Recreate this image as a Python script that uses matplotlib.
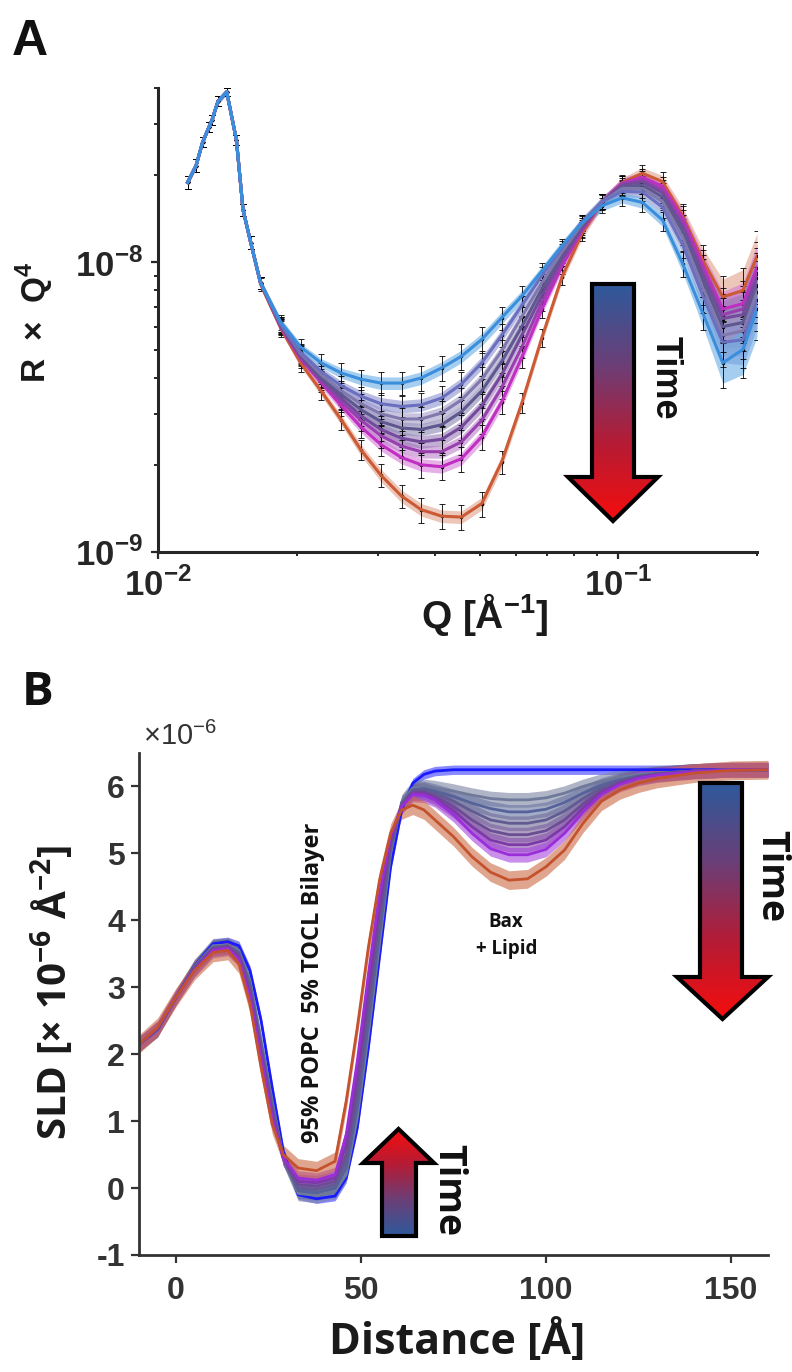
import numpy as np
import matplotlib
matplotlib.use("Agg")
import matplotlib.pyplot as plt
from matplotlib import ticker
from matplotlib.colors import LinearSegmentedColormap
from matplotlib.patches import Polygon

plt.rcParams['font.family'] = ['Liberation Sans', 'DejaVu Sans']
plt.rcParams['mathtext.fontset'] = 'custom'
plt.rcParams['mathtext.rm'] = 'Liberation Sans:bold'
plt.rcParams['mathtext.bf'] = 'Open Sans:bold'
plt.rcParams['mathtext.sf'] = 'Liberation Sans'
plt.rcParams['axes.unicode_minus'] = False

# ---------------- panel A data (R x Q^4 vs Q) ----------------
q_low = [0.0116, 0.0121, 0.0125, 0.0129, 0.0131, 0.0135, 0.0141, 0.0148, 0.0153, 0.0159]
r_low = [1.89e-8, 2.16e-8, 2.6e-8, 2.93e-8, 3.1e-8, 3.6e-8, 3.88e-8, 2.65e-8, 1.52e-8, 1.17e-8]
err_low = [0.05, 0.05, 0.04, 0.04, 0.04, 0.04, 0.03, 0.04, 0.05, 0.05]
band_low = [0.02, 0.02, 0.02, 0.02, 0.02, 0.02, 0.02, 0.02, 0.02, 0.02]

q_hi = [0.0167, 0.0185, 0.0204, 0.0226, 0.0250, 0.0276, 0.0305, 0.0338, 0.0373, 0.0413,
        0.0456, 0.0505, 0.0558, 0.0617, 0.0682, 0.0754, 0.0834, 0.0922, 0.1020, 0.1128,
        0.1247, 0.1379, 0.1524, 0.1685, 0.1864, 0.2000]
err_hi = [0.05, 0.06, 0.07, 0.07, 0.08, 0.08, 0.09, 0.09, 0.1, 0.1, 0.1, 0.1, 0.09,
          0.08, 0.07, 0.06, 0.06, 0.06, 0.06, 0.07, 0.08, 0.1, 0.13, 0.18, 0.2, 0.22]
band_hi = [0.03, 0.03, 0.03, 0.035, 0.04, 0.045, 0.05, 0.05, 0.05, 0.05, 0.05, 0.05, 0.05,
           0.045, 0.04, 0.04, 0.04, 0.04, 0.04, 0.045, 0.05, 0.07, 0.1, 0.15, 0.18, 0.2]

rq_blue = [8.5e-9, 6.2e-9, 5.1e-9, 4.5e-9, 4.15e-9, 3.95e-9, 3.83e-9, 3.83e-9, 3.99e-9, 4.32e-9,
           4.74e-9, 5.42e-9, 6.44e-9, 7.65e-9, 9.33e-9, 1.14e-8, 1.37e-8, 1.57e-8, 1.67e-8, 1.61e-8,
           1.40e-8, 9.9e-9, 6.7e-9, 4.5e-9, 5.0e-9, 6.9e-9]
rq_c1 = [8.5e-9, 6.1e-9, 4.9e-9, 4.2e-9, 3.75e-9, 3.45e-9, 3.25e-9, 3.18e-9, 3.22e-9, 3.4e-9,
         3.8e-9, 4.5e-9, 5.6e-9, 7.1e-9, 9.0e-9, 1.12e-8, 1.38e-8, 1.62e-8, 1.76e-8, 1.75e-8,
         1.55e-8, 1.15e-8, 7.7e-9, 5.3e-9, 5.4e-9, 7.4e-9]
rq_c2 = [8.5e-9, 6.1e-9, 4.85e-9, 4.1e-9, 3.6e-9, 3.25e-9, 3.0e-9, 2.88e-9, 2.88e-9, 3.02e-9,
         3.35e-9, 3.95e-9, 4.95e-9, 6.5e-9, 8.5e-9, 1.09e-8, 1.36e-8, 1.62e-8, 1.80e-8, 1.80e-8,
         1.62e-8, 1.22e-8, 8.2e-9, 5.6e-9, 5.8e-9, 7.9e-9]
rq_c3 = [8.5e-9, 6.05e-9, 4.8e-9, 4.0e-9, 3.5e-9, 3.1e-9, 2.82e-9, 2.68e-9, 2.65e-9, 2.75e-9,
         3.05e-9, 3.6e-9, 4.55e-9, 6.0e-9, 8.1e-9, 1.06e-8, 1.34e-8, 1.62e-8, 1.82e-8, 1.85e-8,
         1.68e-8, 1.28e-8, 8.7e-9, 6.0e-9, 6.2e-9, 8.3e-9]
rq_c4 = [8.5e-9, 6.0e-9, 4.75e-9, 3.95e-9, 3.4e-9, 2.95e-9, 2.65e-9, 2.47e-9, 2.4e-9, 2.45e-9,
         2.7e-9, 3.2e-9, 4.1e-9, 5.6e-9, 7.7e-9, 1.03e-8, 1.32e-8, 1.62e-8, 1.85e-8, 1.90e-8,
         1.74e-8, 1.33e-8, 9.1e-9, 6.4e-9, 6.6e-9, 8.8e-9]
rq_c5 = [8.5e-9, 6.0e-9, 4.7e-9, 3.9e-9, 3.3e-9, 2.85e-9, 2.52e-9, 2.32e-9, 2.22e-9, 2.22e-9,
         2.4e-9, 2.85e-9, 3.7e-9, 5.1e-9, 7.3e-9, 1.0e-8, 1.30e-8, 1.62e-8, 1.87e-8, 1.93e-8,
         1.78e-8, 1.38e-8, 9.4e-9, 6.6e-9, 6.9e-9, 9.2e-9]
rq_c6 = [8.5e-9, 5.95e-9, 4.65e-9, 3.85e-9, 3.2e-9, 2.7e-9, 2.35e-9, 2.12e-9, 2.0e-9, 1.97e-9,
         2.1e-9, 2.5e-9, 3.3e-9, 4.7e-9, 6.9e-9, 9.7e-9, 1.29e-8, 1.62e-8, 1.88e-8, 1.97e-8,
         1.83e-8, 1.42e-8, 9.8e-9, 6.9e-9, 7.2e-9, 9.6e-9]
rq_orange = [8.4e-9, 5.9e-9, 4.5e-9, 3.6e-9, 2.86e-9, 2.25e-9, 1.84e-9, 1.56e-9, 1.40e-9, 1.33e-9,
             1.32e-9, 1.47e-9, 2.05e-9, 3.27e-9, 5.5e-9, 8.9e-9, 1.26e-8, 1.61e-8, 1.89e-8, 2.03e-8,
             1.90e-8, 1.45e-8, 1.02e-8, 7.6e-9, 8.0e-9, 1.05e-8]

# ---------------- panel B data (SLD profiles, x 1e-6 A^-2) ----------------
dist = [-10, -5, 0, 5, 10, 14, 17, 20, 23, 26, 29, 33, 38, 43, 46, 49, 52, 55, 58, 61,
        64, 67, 70, 75, 80, 85, 90, 95, 100, 105, 110, 115, 120, 125, 130, 140, 150, 160]
sld_blue = [2.15, 2.36, 2.85, 3.32, 3.65, 3.68, 3.62, 3.25, 2.5, 1.5, 0.55, -0.1, -0.16, -0.12,
            0.15, 0.9, 2.1, 3.45, 4.8, 5.65, 6.05, 6.18, 6.23, 6.25, 6.25, 6.25, 6.25, 6.25, 6.25,
            6.25, 6.25, 6.25, 6.25, 6.25, 6.25, 6.25, 6.25, 6.25]
sld_c1 = [2.15, 2.36, 2.85, 3.31, 3.62, 3.63, 3.55, 3.1, 2.2, 1.3, 0.45, -0.08, -0.11, -0.05,
          0.2, 1.05, 2.3, 3.65, 5.0, 5.77, 5.98, 6.0, 5.98, 5.93, 5.87, 5.82, 5.8, 5.8, 5.83,
          5.9, 6.0, 6.08, 6.14, 6.18, 6.2, 6.23, 6.25, 6.25]
sld_c2 = [2.15, 2.37, 2.85, 3.3, 3.6, 3.62, 3.52, 3.05, 2.15, 1.25, 0.45, -0.04, -0.07, 0.0,
          0.3, 1.2, 2.45, 3.8, 5.05, 5.75, 5.95, 5.97, 5.93, 5.85, 5.75, 5.67, 5.62, 5.62, 5.66,
          5.76, 5.9, 6.02, 6.1, 6.16, 6.19, 6.23, 6.25, 6.25]
sld_c3 = [2.15, 2.37, 2.85, 3.29, 3.59, 3.62, 3.5, 3.0, 2.1, 1.2, 0.45, 0.0, -0.02, 0.05,
          0.4, 1.35, 2.6, 3.95, 5.1, 5.73, 5.93, 5.95, 5.9, 5.78, 5.63, 5.5, 5.45, 5.45, 5.5,
          5.63, 5.82, 5.98, 6.08, 6.15, 6.19, 6.23, 6.25, 6.25]
sld_c4 = [2.15, 2.38, 2.85, 3.28, 3.58, 3.6, 3.48, 2.95, 2.05, 1.15, 0.45, 0.05, 0.03, 0.1,
          0.5, 1.5, 2.8, 4.1, 5.15, 5.72, 5.92, 5.92, 5.86, 5.7, 5.5, 5.34, 5.28, 5.28, 5.34,
          5.5, 5.74, 5.94, 6.06, 6.14, 6.18, 6.23, 6.25, 6.25]
sld_c5 = [2.15, 2.38, 2.85, 3.27, 3.57, 3.6, 3.45, 2.9, 2.0, 1.1, 0.45, 0.1, 0.08, 0.15,
          0.65, 1.7, 3.0, 4.25, 5.2, 5.7, 5.9, 5.9, 5.83, 5.64, 5.4, 5.2, 5.13, 5.13, 5.2,
          5.4, 5.68, 5.91, 6.05, 6.13, 6.18, 6.23, 6.25, 6.25]
sld_c6 = [2.15, 2.39, 2.85, 3.26, 3.55, 3.58, 3.42, 2.85, 1.95, 1.05, 0.45, 0.15, 0.12, 0.2,
          0.8, 1.9, 3.2, 4.4, 5.25, 5.7, 5.88, 5.87, 5.8, 5.58, 5.3, 5.07, 4.98, 4.98, 5.06,
          5.3, 5.62, 5.88, 6.03, 6.12, 6.17, 6.22, 6.25, 6.25]
sld_orange = [2.15, 2.4, 2.85, 3.25, 3.52, 3.55, 3.35, 2.75, 1.8, 0.95, 0.5, 0.3, 0.26, 0.4,
              1.3, 2.4, 3.6, 4.6, 5.3, 5.65, 5.72, 5.65, 5.5, 5.25, 4.95, 4.72, 4.6, 4.62, 4.8,
              5.05, 5.45, 5.78, 5.95, 6.05, 6.12, 6.2, 6.24, 6.25]

x_ticks_b = [0, 50, 100, 150]
y_ticks_b = [-1, 0, 1, 2, 3, 4, 5, 6]

# ---------------- figure ----------------
fig = plt.figure(figsize=(7.92, 13.72), dpi=100)
W, H = 792, 1372
axA = fig.add_axes([158 / W, 1 - 552 / H, 599 / W, 464 / H])
axB = fig.add_axes([139 / W, 1 - 1255 / H, 629 / W, 502 / H])

# panel A, drawn late -> early so the blue curve sits on top
q_all = np.array(q_low + q_hi)
err_all = np.array(err_low + err_hi)
band_all = np.array(band_low + band_hi)
curves_a = [
    (rq_orange, '#cc5a34', '#e0a089'),
    (rq_c6, '#c02ec2', '#d77ad8'),
    (rq_c5, '#9a3fb0', '#bb80cb'),
    (rq_c4, '#744a9c', '#9a7ab8'),
    (rq_c3, '#5f5890', '#8a84b0'),
    (rq_c2, '#8079ad', '#a59ec8'),
    (rq_c1, '#6a6fc0', '#8d92cf'),
    (rq_blue, '#3b8edb', '#69ade6'),
]
for vals, lc, bc in curves_a:
    r = np.array(r_low + vals)
    axA.fill_between(q_all, r * (1 - band_all), r * (1 + band_all), color=bc, alpha=0.6, lw=0)
    axA.errorbar(q_all, r, yerr=r * err_all, fmt='.', color='k', ms=3, elinewidth=0.6,
                 capsize=2.5, capthick=0.6, zorder=3)
    axA.plot(q_all, r, color=lc, lw=2.2, zorder=4)

axA.set_xscale('log')
axA.set_yscale('log')
axA.set_xlim(0.01, 0.2)
axA.set_ylim(1e-9, 4e-8)
axA.set_xticks([0.01, 0.1])
axA.set_xticklabels(['$10^{-2}$', '$10^{-1}$'])
axA.set_yticks([1e-9, 1e-8])
axA.set_yticklabels(['$10^{-9}$', '$10^{-8}$'])
axA.xaxis.set_minor_locator(ticker.LogLocator(base=10, subs=np.arange(2, 10)))
axA.yaxis.set_minor_locator(ticker.LogLocator(base=10, subs=np.arange(2, 10)))
axA.xaxis.set_minor_formatter(ticker.NullFormatter())
axA.yaxis.set_minor_formatter(ticker.NullFormatter())
axA.tick_params(which='major', direction='out', length=5, width=1.6, labelsize=25,
                colors='#262626', pad=6)
axA.tick_params(which='minor', direction='out', length=3, width=1.4, colors='#262626')
for s in ['top', 'right']:
    axA.spines[s].set_visible(False)
for s in ['left', 'bottom']:
    axA.spines[s].set_linewidth(2.2)
    axA.spines[s].set_color('#262626')
axA.set_xlabel('Q [Å$^{-1}$]', fontsize=28, fontweight='bold', color='#1a1a1a')
axA.xaxis.set_label_coords(0.546, -0.085)
axA.set_ylabel('R  ×  Q$^4$', fontsize=24, fontweight='bold', color='#1a1a1a')
axA.yaxis.set_label_coords(-0.17, 0.496)

# panel B, drawn early -> late so the orange curve sits on top
curves_b = [
    (sld_blue, '#1a1aff', '#3a3aff', 0.07),
    (sld_c1, '#6f7a9a', '#7a84a2', 0.11),
    (sld_c2, '#56639a', '#6873a0', 0.11),
    (sld_c3, '#605c92', '#6e6a98', 0.11),
    (sld_c4, '#6b4d94', '#7a609c', 0.11),
    (sld_c5, '#7b3aa5', '#8a50ad', 0.11),
    (sld_c6, '#9a2ed8', '#a544dc', 0.11),
    (sld_orange, '#c4522c', '#cc6a45', 0.14),
]
x_b = np.array(dist)
for vals, lc, bc, hw in curves_b:
    s = np.array(vals)
    axB.fill_between(x_b, s - hw, s + hw, color=bc, alpha=0.6, lw=0)
    axB.plot(x_b, s, color=lc, lw=2)

axB.set_xlim(-10, 160)
axB.set_ylim(-1, 6.5)
axB.set_xticks(x_ticks_b)
axB.set_xticklabels([str(v) for v in x_ticks_b])
axB.set_yticks(y_ticks_b)
axB.set_yticklabels([str(v) for v in y_ticks_b])
axB.tick_params(axis='y', direction='out', length=6, width=1.6, labelsize=23,
                colors='#333333', pad=4)
axB.tick_params(axis='x', direction='out', length=6, width=1.6, labelsize=23,
                colors='#333333', pad=9)
for lbl in axB.get_xticklabels() + axB.get_yticklabels():
    lbl.set_fontweight('bold')
for s in ['top', 'right']:
    axB.spines[s].set_visible(False)
for s in ['left', 'bottom']:
    axB.spines[s].set_linewidth(2)
    axB.spines[s].set_color('#333333')
axB.set_xlabel('Distance [Å]', fontsize=31, fontweight='bold', family='Open Sans',
               color='#1a1a1a')
axB.xaxis.set_label_coords(0.506, -0.13)
axB.set_ylabel(r'SLD [× 10$^{\mathbf{-6}}$ Å$^{\mathbf{-2}}$]', fontsize=29,
               fontweight='bold', family='Open Sans', color='#1a1a1a')
axB.yaxis.set_label_coords(-0.1, 0.524)
axB.text(0.006, 1.016, r'×10$^{\mathsf{-6}}$', transform=axB.transAxes, fontsize=21,
         color='#333333', ha='left', va='baseline')
axB.text(37, 3.07, '95% POPC  5% TOCL Bilayer', rotation=90, ha='center', va='center',
         fontsize=17, fontweight='bold', family='Open Sans', color='#111111')
axB.text(89, 3.98, 'Bax', ha='center', va='center', fontsize=13.5, fontweight='bold',
         family='Open Sans', color='#111111')
axB.text(89.5, 3.57, '+ Lipid', ha='center', va='center', fontsize=13.5, fontweight='bold',
         family='Open Sans', color='#111111')

# overlay in pixel units for panel letters and the time arrows
ov = fig.add_axes([0, 0, 1, 1])
ov.axis('off')


def gradient_arrow(ax, shaft, head, colors):
    x0, x1, y_end = shaft
    hx0, hx1, yb, yt = head
    xc = (hx0 + hx1) / 2
    pts = [(x0, y_end), (x1, y_end), (x1, yb), (hx1, yb), (xc, yt), (hx0, yb), (x0, yb)]
    poly = Polygon(pts, closed=True, facecolor='none', edgecolor='black', lw=3,
                   joinstyle='miter', zorder=3)
    ax.add_patch(poly)
    cmap = LinearSegmentedColormap.from_list('tgrad', colors)
    grad = np.linspace(0, 1, 256).reshape(-1, 1)
    ylo, yhi = min(y_end, yt), max(y_end, yt)
    im = ax.imshow(grad, cmap=cmap, aspect='auto', extent=(hx0, hx1, yhi, ylo),
                   origin='upper', zorder=2)
    im.set_clip_path(poly)


down_cols = ['#2e5a9c', '#6a3f78', '#b41c36', '#f50d0d']
up_cols = down_cols[::-1]
gradient_arrow(ov, (592, 634, 284), (568, 658, 477, 521), down_cols)
gradient_arrow(ov, (700, 742, 783), (677, 768, 977, 1019), down_cols)
gradient_arrow(ov, (382, 416, 1236), (363, 434, 1163, 1129), up_cols)

ov.text(665, 378, 'Time', rotation=-90, ha='center', va='center', fontsize=26,
        fontweight='bold', color='#111111')
ov.text(771, 876, 'Time', rotation=-90, ha='center', va='center', fontsize=27,
        fontweight='bold', family='Open Sans', color='#111111')
ov.text(448, 1190, 'Time', rotation=-90, ha='center', va='center', fontsize=27,
        fontweight='bold', family='Open Sans', color='#111111')
ov.text(12, 55, 'A', fontsize=36, fontweight='bold', ha='left', va='baseline',
        color='#111111')
ov.text(22, 705, 'B', fontsize=34, fontweight='bold', family='Open Sans', ha='left',
        va='baseline', color='#111111')
ov.set_xlim(0, W)
ov.set_ylim(H, 0)

fig.savefig('out.png', dpi=100, facecolor='white')
